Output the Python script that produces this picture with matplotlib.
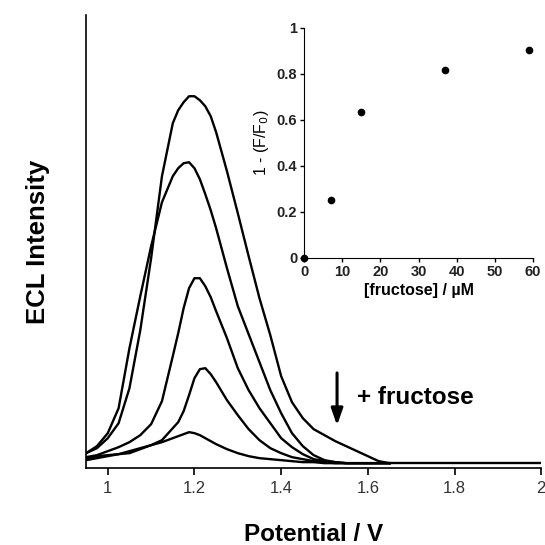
import numpy as np
import matplotlib
matplotlib.use('Agg')
import matplotlib.pyplot as plt

plt.rcParams['font.family'] = ['Liberation Sans', 'DejaVu Sans']

# ECL scans (intensity in arbitrary units)
potential = [0.95, 0.975, 1.0, 1.025, 1.05, 1.075, 1.1, 1.125, 1.15,
             1.1625, 1.175, 1.1875, 1.2, 1.2125, 1.225, 1.2375, 1.25,
             1.275, 1.3, 1.325, 1.35, 1.375, 1.4, 1.425, 1.45, 1.475,
             1.5, 1.525, 1.55, 1.575, 1.6, 1.625, 1.65]
ecl_0 = [15, 20, 30, 45, 80, 138, 210, 292, 345,
         358, 366, 372, 372, 368, 362, 352, 336,
         297, 255, 212, 170, 133, 92, 66, 50, 39,
         33, 27, 22, 17, 12, 7, 5]
ecl_1 = [15, 22, 35, 60, 120, 172, 222, 266, 292,
         300, 305, 306, 300, 289, 274, 258, 240,
         200, 162, 134, 106, 78, 55, 35, 22, 13,
         8, 6, 5, 5, 5, 5, 5]
ecl_2 = [11, 13, 17, 21, 26, 33, 44, 67, 112,
         135, 160, 180, 190, 190, 182, 171, 157,
         130, 100, 78, 60, 45, 30, 21, 14, 9,
         7, 6, 5, 5, 5, 5, 5]
ecl_3 = [10, 12, 13, 14, 15, 19, 23, 28, 40,
         46, 57, 73, 90, 99, 100, 94, 86,
         68, 53, 39, 28, 20, 15, 11, 9, 7,
         6, 5, 5, 5, 5, 5, 5]
ecl_4 = [8, 10, 12, 14, 17, 20, 23, 26, 30,
         32, 34, 36, 35, 33, 30, 27, 24,
         19, 15, 12, 10, 9, 8, 7, 6, 6,
         5, 5, 5, 5, 5, 5, 5]
tail_potential = [1.65, 1.75, 1.85, 1.95, 2.0]
tail_ecl = [5, 5, 5, 5, 5]

# inset: quenching vs fructose concentration
fructose = [0, 7, 15, 37, 59]
quench = [0, 0.25, 0.635, 0.815, 0.905]

fig = plt.figure(figsize=(5.45, 5.45), dpi=100)
ax = fig.add_axes([0.158, 0.141, 0.835, 0.831])

for y in [ecl_0, ecl_1, ecl_2, ecl_3, ecl_4]:
    ax.plot(potential, y, color='black', lw=1.7)
ax.plot(tail_potential, tail_ecl, color='black', lw=1.7)

ax.set_xlim(0.95, 2.0)
ax.set_ylim(0, 453)
ax.spines['top'].set_visible(False)
ax.spines['right'].set_visible(False)
ax.spines['left'].set_linewidth(1.2)
ax.spines['bottom'].set_linewidth(1.2)
ax.set_yticks([])
ax.set_xticks([1, 1.2, 1.4, 1.6, 1.8, 2])
ax.set_xticklabels(['1', '1.2', '1.4', '1.6', '1.8', '2'])
ax.tick_params(axis='x', direction='out', length=5, width=1.2,
               labelsize=12, labelcolor='#333333', pad=4)
ax.set_xlabel('Potential / V', fontsize=17.5, fontweight='bold', labelpad=20)
ax.set_ylabel('ECL Intensity', fontsize=18.5, fontweight='bold', labelpad=26)

ax.annotate('', xy=(1.529, 40), xytext=(1.529, 98),
            arrowprops=dict(arrowstyle='-|>,head_width=0.35,head_length=1.0',
                            color='black', lw=2.2))
ax.text(1.575, 71, '+ fructose', fontsize=17.5, fontweight='bold', va='center')

ins = fig.add_axes([0.558, 0.527, 0.420, 0.422])
ins.plot(fructose, quench, 'o', color='black', ms=4.5, clip_on=False)
ins.set_xlim(0, 60)
ins.set_ylim(0, 1)
ins.spines['top'].set_visible(False)
ins.spines['right'].set_visible(False)
ins.set_xticks([0, 10, 20, 30, 40, 50, 60])
ins.set_yticks([0, 0.2, 0.4, 0.6, 0.8, 1])
ins.set_yticklabels(['0', '0.2', '0.4', '0.6', '0.8', '1'])
ins.tick_params(direction='out', length=3, width=1, labelsize=10.5, pad=2)
for lab in ins.get_xticklabels() + ins.get_yticklabels():
    lab.set_fontweight('bold')
    lab.set_color('#222222')
ins.set_xlabel('[fructose] / µM', fontsize=11.5, fontweight='bold', labelpad=3)
ins.set_ylabel('1 - (F/F$_0$)', fontsize=11.5, labelpad=4)

plt.savefig('out.png', dpi=100)
